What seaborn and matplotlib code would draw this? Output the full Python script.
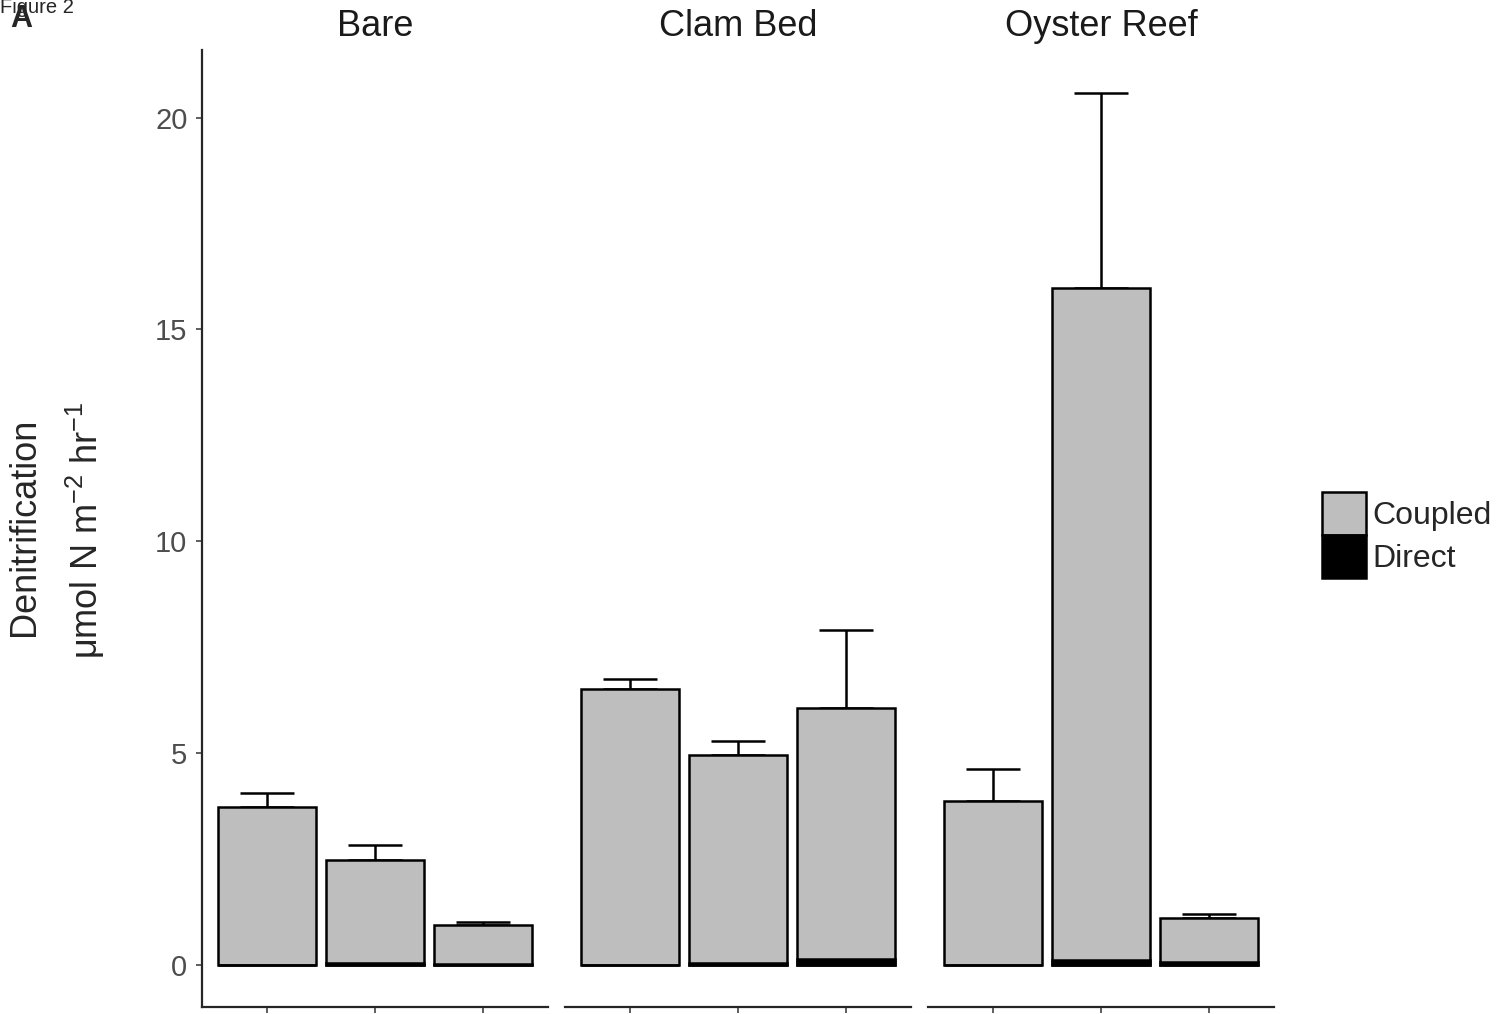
import pandas as pd
import matplotlib
matplotlib.use("Agg")
import matplotlib.pyplot as plt
from matplotlib.patches import Patch
import seaborn as sns

# Valores (umol N m-2 hr-1)
sites = ["Bare", "Clam Bed", "Oyster Reef"]
treatments = ["T1", "T2", "T3"]
total = {
    "Bare": [3.73, 2.48, 0.94],
    "Clam Bed": [6.52, 4.96, 6.07],
    "Oyster Reef": [3.87, 15.99, 1.11],
}
direct = {
    "Bare": [0.0, 0.03, 0.02],
    "Clam Bed": [0.0, 0.05, 0.13],
    "Oyster Reef": [0.0, 0.12, 0.06],
}
se = {
    "Bare": [0.33, 0.35, 0.06],
    "Clam Bed": [0.23, 0.31, 1.84],
    "Oyster Reef": [0.76, 4.60, 0.09],
}

sns.set_style("ticks")
plt.rcParams["font.family"] = ["Liberation Sans", "DejaVu Sans"]
plt.rcParams["mathtext.fontset"] = "custom"
plt.rcParams["mathtext.rm"] = "Liberation Sans"
plt.rcParams["mathtext.it"] = "Liberation Sans"

W, H = 1499, 1014
fig = plt.figure(figsize=(W / 100, H / 100), dpi=100)

panels = [(202, 548), (565, 911), (928, 1274)]
top, bottom = 50, 1007

gray = "#BEBEBE"
lw = 1.8

for i, (site, (x0, x1)) in enumerate(zip(sites, panels)):
    ax = fig.add_axes([x0 / W, (H - bottom) / H, (x1 - x0) / W, (bottom - top) / H])
    df = pd.DataFrame({
        "treatment": treatments,
        "total": total[site],
        "direct": direct[site],
        "se": se[site],
    })
    sns.barplot(data=df, x="treatment", y="total", color=gray, edgecolor="black",
                linewidth=lw, width=0.91, errorbar=None, ax=ax, zorder=3, saturation=1)
    sns.barplot(data=df, x="treatment", y="direct", color="black", edgecolor="black",
                linewidth=lw, width=0.91, errorbar=None, ax=ax, zorder=3, saturation=1)
    ax.errorbar(range(len(df)), df["total"], yerr=[[0] * len(df), df["se"]],
                fmt="none", ecolor="black", elinewidth=lw, capsize=19.5,
                capthick=lw, zorder=2)
    ax.set_xlim(-0.6, 2.6)
    ax.set_ylim(-1.0, 21.6)
    ax.set_xlabel("")
    ax.set_ylabel("")
    ax.set_xticks(range(3))
    ax.set_xticklabels(["", "", ""])
    ax.set_yticks([0, 5, 10, 15, 20])
    ax.tick_params(axis="both", length=4.5, width=1.1, color="#333333",
                   labelsize=21, labelcolor="#4D4D4D", pad=6)
    ax.set_title(site, fontsize=26, color="#1A1A1A", pad=10)
    for s in ["top", "right"]:
        ax.spines[s].set_visible(False)
    ax.spines["bottom"].set_linewidth(1.6)
    ax.spines["left"].set_linewidth(1.6)
    if i > 0:
        ax.spines["left"].set_visible(False)
        ax.tick_params(axis="y", left=False, labelleft=False)

# Etiqueta del eje Y en dos lineas
fig.text(25 / W, 1 - 527 / H, "Denitrification", rotation=90, fontsize=26,
         ha="center", va="center")
fig.text(85 / W, 1 - 530 / H, r"μmol N m$^{-2}$ hr$^{-1}$", rotation=90, fontsize=26,
         ha="center", va="center")

# Leyenda
handles = [Patch(facecolor=gray, edgecolor="black", linewidth=lw, label="Coupled"),
           Patch(facecolor="black", edgecolor="black", linewidth=lw, label="Direct")]
fig.legend(handles=handles, loc="center left", bbox_to_anchor=(1322 / W, 1 - 535 / H),
           frameon=False, fontsize=23, handlelength=1.375, handleheight=1.67,
           labelspacing=0.02, handletextpad=0.2, borderpad=0, borderaxespad=0)

fig.text(0, 1 - 13 / H, "Figure 2", fontsize=14.5, ha="left", va="baseline")
fig.text(10 / W, 1 - 27 / H, "A", fontsize=22, fontweight="bold", ha="left", va="baseline")

fig.savefig("out.png", dpi=100)
